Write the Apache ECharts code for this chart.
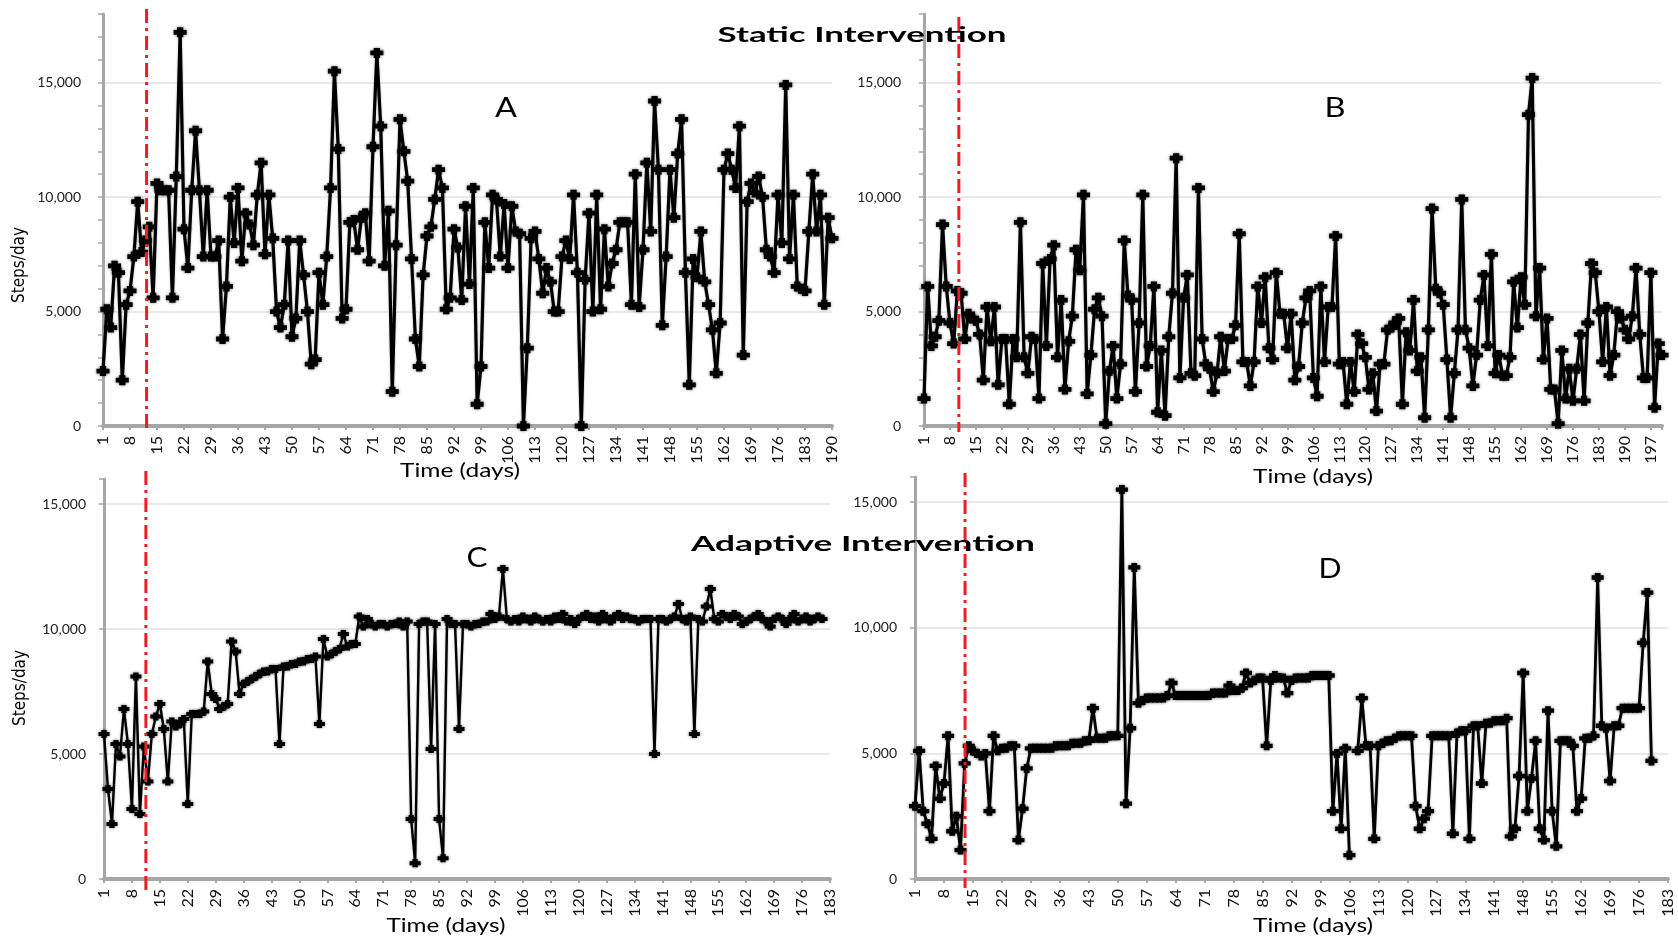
<!DOCTYPE html>
<html><head><meta charset="utf-8">
<script src="https://cdn.jsdelivr.net/npm/echarts@6/dist/echarts.min.js"></script>
<style>html,body{margin:0;padding:0;background:#fff}#c{width:1678px;height:937px}</style>
</head><body><div id="c"></div><script>
// ---- data (steps per day, one value per day starting at day 1) ----
const stepsA = [
2400,5100,4300,7000,6700,2000,5300,5900,7400,9800,
7600,8100,8700,5600,10600,10300,10300,10300,5600,10900,
17200,8600,6900,10300,12900,10300,7400,10300,7400,7400,
8100,3800,6100,10000,8000,10400,7200,9300,8800,7900,
10100,11500,7500,10100,8200,5000,4300,5300,8100,3900,
4700,8100,6600,5000,2700,2900,6700,5300,7400,10400,
15500,12100,4700,5100,8900,9000,7700,9100,9300,7200,
12200,16300,13100,7000,9400,1500,7900,13400,12000,10700,
7300,3800,2600,6600,8300,8700,9900,11200,10400,5100,
5600,8600,7800,5500,9600,6200,10400,950,2600,8900,
6900,10100,9900,7400,9700,6900,9600,8500,8400,0,
3400,8200,8500,7300,5800,6900,6300,5000,5000,7400,
8100,7300,10100,6700,0,6400,9300,5000,10100,5100,
8600,6100,7100,7700,8900,8900,8900,5300,11000,5200,
7700,11500,8500,14200,11200,4400,7400,11200,9100,11900,
13400,6700,1800,7300,6500,8500,6300,5300,4200,2300,
4500,11200,11900,11200,10400,13100,3100,9800,10600,10200,
10900,10000,7700,7400,6700,10100,8000,14900,7300,10100,
6100,6000,5900,8500,11000,8500,10100,5300,9100,8200
];
const stepsB = [
1200,6100,3500,3900,4600,8800,6100,4500,3600,5900,
5800,3800,4900,4700,4600,4000,2000,5200,3700,5200,
1800,3800,3800,950,3800,3000,8900,3000,2300,3900,
3800,1200,7100,3500,7300,7900,3000,5500,1600,3700,
4800,7700,6800,10100,1400,3100,5100,5600,4800,100,
2400,3500,1200,2700,8100,5700,5500,1500,4500,10100,
2600,3500,6100,600,3300,450,3900,5800,11700,2100,
5600,6600,2300,2200,10400,3800,2700,2500,1500,2300,
3900,2400,3800,3800,4400,8400,2800,2800,1750,2800,
6100,4500,6500,3400,2900,6700,4900,4900,3400,4900,
2000,2600,4500,5600,5900,2100,1300,6100,2800,5200,
5200,8300,2700,2800,950,2800,1500,4000,3600,3000,
1600,2300,650,2700,2700,4200,4300,4500,4700,950,
4100,3300,5500,2400,3000,360,4200,9500,6000,5800,
5300,2900,360,2300,4200,9900,4200,3400,1750,3100,
5500,6600,3500,7500,2300,3100,2200,2200,3000,6300,
4300,6500,5300,13600,15200,4800,6900,2900,4700,1600,
1600,100,3300,1200,2500,1100,2500,4000,1100,4500,
7100,6700,5000,2800,5200,2200,3100,5000,4700,4200,
3800,4800,6900,4000,2100,2100,6700,800,3600,3100
];
const stepsC = [
5800,3600,2200,5400,4900,6800,5400,2800,8100,2600,
5300,3900,5800,6500,7000,6000,3900,6300,6100,6200,
6400,3000,6600,6600,6600,6700,8700,7400,7200,6800,
6900,7000,9500,9100,7400,7800,7900,8000,8100,8200,
8300,8300,8400,8400,5400,8500,8500,8600,8600,8700,
8700,8800,8800,8900,6200,9600,8900,9000,9100,9200,
9800,9300,9400,9400,10500,10100,10400,10200,10100,10200,
10200,10100,10200,10200,10300,10100,10300,2400,630,10200,
10300,10300,5200,10200,2400,830,10400,10200,10200,6000,
10200,10200,10100,10200,10200,10300,10300,10600,10400,10500,
12400,10400,10300,10400,10300,10500,10400,10300,10500,10400,
10300,10400,10300,10500,10400,10600,10300,10400,10200,10400,
10500,10600,10400,10500,10300,10600,10400,10300,10500,10600,
10400,10500,10400,10400,10300,10400,10400,10400,5000,10400,
10400,10300,10400,10500,11000,10400,10300,10500,5800,10400,
10300,10900,11600,10400,10300,10600,10500,10400,10600,10500,
10200,10300,10400,10500,10600,10400,10300,10100,10400,10500,
10400,10200,10400,10600,10300,10400,10500,10300,10400,10500,
10400
];
const stepsD = [
2900,5100,2700,2200,1600,4500,3200,3800,5700,1900,
2500,1150,4600,5300,5100,5000,4900,5000,2700,5700,
5100,5200,5200,5300,5300,1550,2800,4400,5200,5200,
5200,5200,5200,5200,5300,5300,5300,5300,5400,5400,
5400,5500,5500,6800,5600,5600,5600,5700,5700,5700,
15500,3000,6000,12400,7000,7100,7200,7200,7200,7200,
7200,7300,7800,7300,7300,7300,7300,7300,7300,7300,
7300,7300,7400,7400,7400,7400,7700,7500,7500,7600,
8200,7800,7900,8000,8000,5300,7900,8100,8000,8000,
7400,7900,8000,8000,8000,8000,8100,8100,8100,8100,
8100,2700,5000,2000,5200,950,null,5100,7200,5300,
5300,1600,5300,5400,5500,5500,5600,5700,5700,5700,
5700,2900,2000,2400,2700,5700,5700,5700,5700,5700,
1800,5800,5900,5900,1600,6100,6100,3800,6200,6200,
6300,6300,6300,6400,1700,2000,4100,8200,2700,4000,
5500,2000,1550,6700,2700,1300,5500,5500,5500,5300,
2700,3200,5600,5600,5700,12000,6100,6000,3900,6100,
6100,6800,6800,6800,6800,6800,9400,11400,4700
];
// last day on each time axis
const lastDayA = 190, lastDayB = 200, lastDayC = 183, lastDayD = 183;
// day at which the intervention starts (red dash-dot line)
const interventionDays = [12.3, 10.4, 11.5, 13.1];
// labelled step values on the y axes
const yLabelValues = [0, 5000, 10000, 15000];
const dayLabelStep = 7;
const panelLetters = ['A', 'B', 'C', 'D'];
const titles = ['Static Intervention', 'Adaptive Intervention'];
const xTitle = 'Time (days)';
const yTitle = 'Steps/day';

// ---- layout ----
const T = 'rgba(0,0,0,0)', G = '#e2e2e2';
const panels = [
  {vals: stepsA, lastDay: lastDayA, yMax: 18000, yInt: 1000, grid: {left: 103, top: 14, width: 729, height: 412},
   red: [9, 433], lw: 3.2, sym: [13, 10], margin: 22, split: [G, T, T, T, T]},
  {vals: stepsB, lastDay: lastDayB, yMax: 18000, yInt: 1000, grid: {left: 924, top: 14, width: 738, height: 412},
   red: [17, 432], lw: 3.2, sym: [13, 10], margin: 23, split: [G, T, T, T, T]},
  {vals: stepsC, lastDay: lastDayC, yMax: 16000, yInt: 5000, grid: {left: 104, top: 479, width: 726, height: 400},
   red: [471, 892], lw: 2.4, sym: [11, 8], margin: 18, split: [G, G, G, G, T]},
  {vals: stepsD, lastDay: lastDayD, yMax: 16000, yInt: 5000, grid: {left: 915, top: 477, width: 753, height: 402},
   red: [473, 888], lw: 2.8, sym: [12, 9], margin: 18, split: [G, G, G, G, T]}
];
const fmt = v => String(v).replace(/\B(?=(\d{3})+(?!\d))/g, ',');
const plus = 'path://M2.6,0H7.4V2.6H10V7.4H7.4V10H2.6V7.4H0V2.6H2.6Z';

const grids = [], xAxes = [], yAxes = [], series = [];
panels.forEach((p, i) => {
  grids.push(Object.assign({containLabel: false}, p.grid));
  xAxes.push({type: 'value', gridIndex: i, min: 1, max: p.lastDay, interval: dayLabelStep,
    axisLine: {show: true, onZero: false, lineStyle: {color: '#a6a6a6', width: 4}},
    axisTick: {show: true, length: 4, lineStyle: {color: '#a6a6a6', width: 2}},
    axisLabel: {rotate: 90, margin: 10, fontFamily: 'Lato', fontSize: 16, color: '#111',
      formatter: v => ((v - 1) % dayLabelStep === 0 ? String(v) : '')},
    splitLine: {show: false}});
  yAxes.push({type: 'value', gridIndex: i, min: 0, max: p.yMax, interval: p.yInt,
    axisLine: {show: true, onZero: false, lineStyle: {color: '#a6a6a6', width: 3}},
    axisTick: {show: true, length: 5, lineStyle: {color: '#a6a6a6', width: 1.5}},
    axisLabel: {margin: p.margin, fontFamily: 'Lato', fontSize: 14, color: '#222',
      formatter: v => (yLabelValues.indexOf(v) >= 0 ? fmt(v) : '')},
    splitLine: {show: true, lineStyle: {color: p.split, width: 1.5}}});
  series.push({type: 'line', xAxisIndex: i, yAxisIndex: i, z: 5, animation: false,
    data: p.vals.map((v, k) => [k + 1, v]),
    symbol: plus, symbolSize: p.sym, showSymbol: true, connectNulls: false,
    itemStyle: {color: '#000', shadowColor: 'rgba(0,0,0,0.55)', shadowBlur: 3},
    lineStyle: {color: '#000', width: p.lw, shadowColor: 'rgba(0,0,0,0.35)', shadowBlur: 2}});
  series.push({type: 'custom', xAxisIndex: i, yAxisIndex: i, z: 10, silent: true, clip: false, animation: false,
    data: [[interventionDays[i], 0]], encode: {x: 0, y: 1},
    renderItem: (params, api) => {
      const x = api.coord([api.value(0), 0])[0];
      return {type: 'line', shape: {x1: x, y1: p.red[0], x2: x, y2: p.red[1]},
        style: {stroke: '#ee1c25', lineWidth: 3, lineDash: [14, 5, 3, 5]}};
    }});
});

const ctx = document.createElement('canvas').getContext('2d');
function scaleTo(text, font, w) { ctx.font = font; const m = ctx.measureText(text).width; return m > 0 ? w / m : 1; }
function txt(text, x, y, font, w, extra) {
  const el = {type: 'text', x: x, y: y, z: 100,
    scaleX: w ? scaleTo(text, font, w) : 1,
    style: {text: text, font: font, fill: '#000', textAlign: 'center', textVerticalAlign: 'middle',
      align: 'center', verticalAlign: 'middle'}};
  return Object.assign(el, extra || {});
}
const graphics = [
  txt(titles[0], 862, 35, 'bold 21px Lato', 289),
  txt(titles[1], 863, 544, 'bold 21px Lato', 344),
  txt(panelLetters[0], 506, 109, '26px Lato', 22),
  txt(panelLetters[1], 1335, 109, '26px Lato', 21),
  txt(panelLetters[2], 477, 559, '26px Lato', 21),
  txt(panelLetters[3], 1330, 570, '26px Lato', 23),
  txt(xTitle, 460, 471, '20px Lato', 120),
  txt(xTitle, 1313, 477, '20px Lato', 120),
  txt(xTitle, 446, 926, '20px Lato', 119),
  txt(xTitle, 1313, 926, '20px Lato', 120),
  txt(yTitle, 20, 265, '17px "Liberation Sans Narrow", "DejaVu Sans Condensed", sans-serif', 0, {rotation: Math.PI / 2}),
  txt(yTitle, 21, 688, '17px "Liberation Sans Narrow", "DejaVu Sans Condensed", sans-serif', 0, {rotation: Math.PI / 2})
];

const chart = echarts.init(document.getElementById('c'), null, {renderer: 'canvas'});
chart.setOption({
  animation: false,
  backgroundColor: '#fff',
  grid: grids, xAxis: xAxes, yAxis: yAxes, series: series,
  graphic: graphics
});
</script></body></html>
